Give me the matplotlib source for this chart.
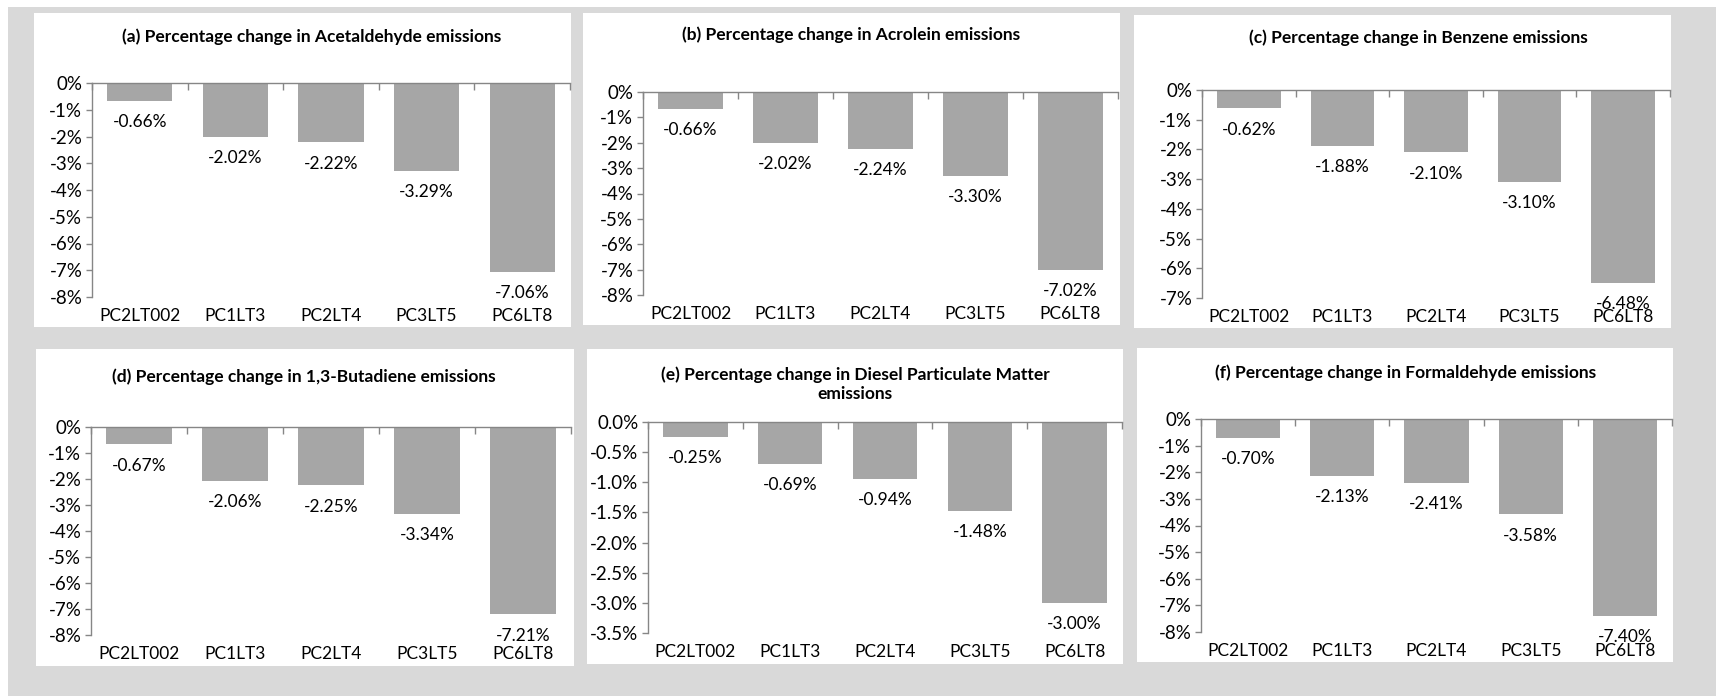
import numpy as np
import matplotlib
matplotlib.use("Agg")
import matplotlib.pyplot as plt
from matplotlib.patches import Rectangle
from matplotlib.ticker import FixedLocator

plt.rcParams['font.family'] = ['Lato', 'DejaVu Sans']

# -------------------------------------------------------------
# Data (percent change per scenario)
# -------------------------------------------------------------
scenarios = ['PC2LT002', 'PC1LT3', 'PC2LT4', 'PC3LT5', 'PC6LT8']

titles = [
    '(a) Percentage change in Acetaldehyde emissions',
    '(b) Percentage change in Acrolein emissions',
    '(c) Percentage change in Benzene emissions',
    '(d) Percentage change in 1,3-Butadiene emissions',
    '(e) Percentage change in Diesel Particulate Matter\nemissions',
    '(f) Percentage change in Formaldehyde emissions',
]

acetaldehyde = [-0.66, -2.02, -2.22, -3.29, -7.06]
acrolein     = [-0.66, -2.02, -2.24, -3.30, -7.02]
benzene      = [-0.62, -1.88, -2.10, -3.10, -6.48]
butadiene    = [-0.67, -2.06, -2.25, -3.34, -7.21]
diesel_pm    = [-0.25, -0.69, -0.94, -1.48, -3.00]
formaldehyde = [-0.70, -2.13, -2.41, -3.58, -7.40]

series = [acetaldehyde, acrolein, benzene, butadiene, diesel_pm, formaldehyde]

# y-axis floor and tick step for each panel
y_floor = [-8, -8, -7, -8, -3.5, -8]
y_step  = [1, 1, 1, 1, 0.5, 1]
y_decimals = [0, 0, 0, 0, 1, 0]

# -------------------------------------------------------------
# Layout in pixels (figure is 1716 x 696)
# panel box: left, top, right, bottom ; axes: left, top(0%), right, bottom
# -------------------------------------------------------------
W, H = 1716, 696
panels = [
    (34, 13, 571, 327),
    (583, 13, 1120, 325),
    (1134, 15, 1671, 328),
    (36, 349, 574, 666),
    (587, 349, 1123, 664),
    (1137, 348, 1673, 662),
]
axes_px = [
    (92, 83, 570, 297),
    (643, 92, 1118, 295),
    (1202, 90, 1670, 298),
    (91, 427, 571, 635),
    (648, 422, 1122, 633),
    (1201, 419, 1672, 632),
]
title_px = [
    (312, 37), (851, 35), (1418, 38),
    (304, 377), (855, 384), (1406, 373),
]

BAR = '#a6a6a6'
AXC = '#868686'
BG = '#d9d9d9'
FS = 12.5

fig = plt.figure(figsize=(W / 100, H / 100), dpi=100)
fig.patch.set_facecolor('white')
fig.patches.append(Rectangle((8 / W, 0), 1 - 8 / W, 1 - 7 / H, transform=fig.transFigure,
                             facecolor=BG, edgecolor='none', zorder=-2))
for (l, t, r, b) in panels:
    fig.patches.append(Rectangle((l / W, 1 - b / H), (r - l) / W, (b - t) / H,
                                 transform=fig.transFigure, facecolor='white',
                                 edgecolor='none', zorder=-1))

x = np.arange(len(scenarios))

for i, vals in enumerate(series):
    l, t, r, b = axes_px[i]
    ax = fig.add_axes([l / W, 1 - b / H, (r - l) / W, (b - t) / H])
    ax.set_facecolor('none')

    ax.bar(x, vals, width=0.68, color=BAR, zorder=2)
    ax.set_xlim(-0.5, len(scenarios) - 0.5)
    ax.set_ylim(y_floor[i], 0)

    # y ticks
    yt = np.arange(y_floor[i], 0.001, y_step[i])
    ax.yaxis.set_major_locator(FixedLocator(yt))
    ax.set_yticklabels([f'{abs(v):.{y_decimals[i]}f}%' if abs(v) < 1e-9
                        else f'{v:.{y_decimals[i]}f}%' for v in yt])
    ax.tick_params(axis='y', direction='out', length=4, width=1, color=AXC,
                   labelsize=13.5, pad=3)

    # x axis: line at 0 (top spine) with boundary ticks pointing down, labels below
    ax.xaxis.set_major_locator(FixedLocator(np.arange(-0.5, len(scenarios), 1)))
    ax.xaxis.set_minor_locator(FixedLocator(x))
    ax.xaxis.set_major_formatter(plt.NullFormatter())
    ax.set_xticklabels(scenarios, minor=True)
    ax.tick_params(axis='x', which='major', top=True, bottom=False, direction='in',
                   length=5, width=1, color=AXC)
    ax.tick_params(axis='x', which='minor', length=0, labelsize=FS, pad=8)

    for side in ['right', 'bottom']:
        ax.spines[side].set_visible(False)
    for side in ['left', 'top']:
        ax.spines[side].set_color(AXC)
        ax.spines[side].set_linewidth(1)

    for xi, v in zip(x, vals):
        ax.annotate(f'{v:.2f}%', (xi, v), xytext=(0, -9.5), textcoords='offset points',
                    ha='center', va='top', fontsize=FS)

    tx, ty = title_px[i]
    fig.text(tx / W, 1 - ty / H, titles[i], ha='center', va='center',
             fontsize=12.5, fontweight='bold', linespacing=1.25)

fig.savefig('out.png', dpi=100, facecolor=fig.get_facecolor())
